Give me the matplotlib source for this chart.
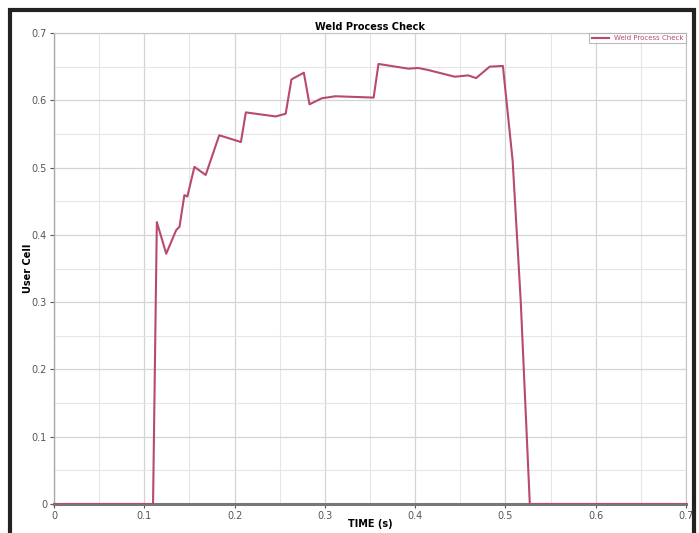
import matplotlib
matplotlib.use("Agg")
import matplotlib.pyplot as plt
from matplotlib.patches import Rectangle
from matplotlib.ticker import MultipleLocator

# Data
time_s = [0.0, 0.1097, 0.1139, 0.1243, 0.1353, 0.139, 0.1444, 0.1477, 0.1555,
          0.168, 0.183, 0.207, 0.2125, 0.2455, 0.2566, 0.263, 0.2767, 0.283,
          0.2966, 0.3117, 0.354, 0.3594, 0.3925, 0.4035, 0.4145, 0.444, 0.4587,
          0.4675, 0.4826, 0.4972, 0.508, 0.517, 0.527, 0.7]
user_cell = [0.0, 0.0, 0.419, 0.372, 0.407, 0.412, 0.459, 0.457, 0.501,
             0.489, 0.548, 0.538, 0.582, 0.576, 0.580, 0.631, 0.641, 0.594,
             0.603, 0.606, 0.604, 0.654, 0.647, 0.648, 0.645, 0.635, 0.637,
             0.633, 0.650, 0.651, 0.51, 0.30, 0.0, 0.0]
x_ticks = [0, 0.1, 0.2, 0.3, 0.4, 0.5, 0.6, 0.7]
x_tick_labels = ["0", "0.1", "0.2", "0.3", "0.4", "0.5", "0.6", "0.7"]
y_ticks = [0, 0.1, 0.2, 0.3, 0.4, 0.5, 0.6, 0.7]
y_tick_labels = ["0", "0.1", "0.2", "0.3", "0.4", "0.5", "0.6", "0.7"]

W, H = 699, 533
fig = plt.figure(figsize=(W / 100, H / 100), dpi=100)
left, right, top, bottom = 54, 686, 33, 504
ax = fig.add_axes([left / W, 1 - bottom / H, (right - left) / W, (bottom - top) / H])

line_color = "#b84a6c"
ax.plot(time_s, user_cell, color=line_color, lw=1.5, label="Weld Process Check",
        zorder=3)

ax.set_xlim(0, 0.7)
ax.set_ylim(0, 0.7)
ax.set_xticks(x_ticks)
ax.set_xticklabels(x_tick_labels)
ax.set_yticks(y_ticks)
ax.set_yticklabels(y_tick_labels)
ax.xaxis.set_minor_locator(MultipleLocator(0.05))
ax.yaxis.set_minor_locator(MultipleLocator(0.05))
ax.grid(which="major", color="#d4d4d4", lw=0.9)
ax.grid(which="minor", color="#e6e6e6", lw=0.8)
ax.set_axisbelow(True)

ax.tick_params(which="major", labelsize=7, colors="#555555", length=3, width=0.8,
               pad=2)
ax.tick_params(which="minor", length=0)

for side in ["top", "right"]:
    ax.spines[side].set_color("#c4c4c4")
    ax.spines[side].set_linewidth(0.8)
ax.spines["left"].set_color("#aaaaaa")
ax.spines["left"].set_linewidth(1.0)
ax.spines["bottom"].set_color("#777777")
ax.spines["bottom"].set_linewidth(2.2)

ax.set_title("Weld Process Check", fontsize=7, fontweight="bold", pad=2)
ax.set_xlabel("TIME (s)", fontsize=7, fontweight="bold")
ax.set_ylabel("User Cell", fontsize=7, fontweight="bold")
ax.xaxis.set_label_coords(0.5, -(524 - bottom) / (bottom - top), transform=ax.transAxes)
ax.yaxis.set_label_coords(-(left - 28) / (right - left), 0.5, transform=ax.transAxes)
ax.xaxis.label.set_va("center")
ax.yaxis.label.set_va("center")

leg = ax.legend(loc="upper right", fontsize=5, frameon=True, fancybox=False,
                borderpad=0.3, handlelength=2.5, borderaxespad=0.0,
                edgecolor="#aaaaaa", labelcolor=line_color)
leg.get_frame().set_linewidth(0.8)

fig.patches.append(Rectangle((10 / W, -0.01), 684 / W, 1 - 10 / H + 0.01,
                             transform=fig.transFigure, fill=False,
                             edgecolor="#222222", lw=3, zorder=10))

fig.savefig("out.png", dpi=100)
